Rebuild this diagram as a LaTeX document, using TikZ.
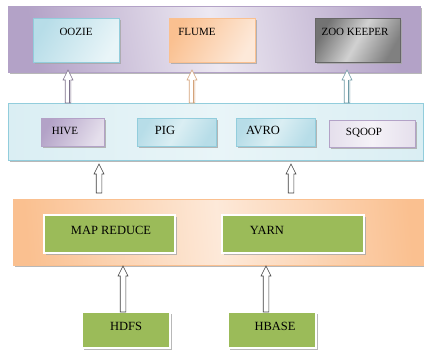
\documentclass[tikz,border=0pt]{standalone}
\usepackage{fontspec}
\setmainfont{Liberation Serif}
\usetikzlibrary{shadows,calc}
\definecolor{purD}{HTML}{B3A2C7}
\definecolor{purL}{HTML}{E5DFEC}
\definecolor{bluD}{HTML}{92CDDC}
\definecolor{bluM}{HTML}{B7DDE8}
\definecolor{bluL}{HTML}{DAEEF3}
\definecolor{orD}{HTML}{FAC090}
\definecolor{orL}{HTML}{FDE9D9}
\definecolor{grn}{HTML}{9BBB59}
\begin{document}
\begin{tikzpicture}[x=1pt,y=-1pt,
  box/.style={rectangle, inner sep=0pt, outer sep=0pt},
  shad/.style={drop shadow={shadow xshift=1.5pt, shadow yshift=-2pt, fill=black!35, opacity=0.8}},
  lbl/.style={inner sep=0pt, font=\fontsize{11}{11}\selectfont},
  lblb/.style={inner sep=0pt, font=\fontsize{12.5}{12.5}\selectfont},
  greenbox/.style={box, fill=grn, draw=white, line width=2.5pt, shad},
  hollow/.style={draw=#1, fill=white, line width=0.6pt, line join=miter,
    to path={let \p1=(\tikztostart), \p2=(\tikztotarget) in
      (\x1-2.8pt,\y1) -- (\x1-2.8pt,\y2-10pt) -- (\x1-5pt,\y2-10pt) -- (\x1,\y2)
      -- (\x1+5pt,\y2-10pt) -- (\x1+2.8pt,\y2-10pt) -- (\x1+2.8pt,\y1) -- cycle}},
  hollow/.default=black!75
]
\useasboundingbox (0,0) rectangle (424,351);
% bands
\node[box, shad, draw=purD, line width=0.6pt, left color=purD, right color=purD, middle color=purL!70, shading angle=100,
  minimum width=412pt, minimum height=66pt] (top) at (214,39) {};
\node[box, shad, draw=bluD, line width=0.6pt, left color=bluL, right color=bluL, middle color=bluL!60,
  minimum width=415pt, minimum height=57pt] (mid) at (215.5,131.5) {};
\node[box, shad, draw=orD, line width=0.6pt, left color=orD, right color=orD, middle color=orL, shading angle=95,
  minimum width=411pt, minimum height=66pt] (bot) at (218.5,232) {};
% top boxes
\node[box, shad, draw=bluD, line width=0.5pt, left color=bluM, right color=bluL!60, shading angle=60,
  minimum width=86pt, minimum height=44pt] (oozie) at (76,40) {};
\node[lbl] (oozieT) at (76,32) {OOZIE};
\node[box, shad, draw=orD, line width=0.5pt, left color=orD, right color=orL, shading angle=60,
  minimum width=86pt, minimum height=44pt] (flume) at (212,40) {};
\node[lbl] (flumeT) at (197,32) {FLUME};
\node[box, shad, draw=black!60, line width=0.5pt, left color=black!55, right color=black!50, middle color=black!18, shading angle=60,
  minimum width=85pt, minimum height=44pt] (zoo) at (357.5,40) {};
\node[lbl] (zooT) at (355,32) {ZOO KEEPER};
% middle boxes
\node[box, shad, draw=purD, line width=0.5pt, left color=purD, right color=purL, shading angle=60,
  minimum width=63pt, minimum height=28pt] (hive) at (72.5,132) {};
\node[lbl] (hiveT) at (65,131) {HIVE};
\node[box, shad, draw=bluD, line width=0.5pt, left color=bluM, right color=bluM, middle color=bluL, shading angle=60,
  minimum width=79pt, minimum height=28pt] (pig) at (176.5,132) {};
\node[lblb] (pigT) at (165,130) {PIG};
\node[box, shad, draw=bluD, line width=0.5pt, left color=bluM, right color=bluM, middle color=bluL, shading angle=60,
  minimum width=79pt, minimum height=28pt] (avro) at (275.5,132) {};
\node[lblb] (avroT) at (263,130) {AVRO};
\node[box, shad, draw=purD, line width=0.5pt, left color=purL, right color=purL, middle color=purL!40,
  minimum width=86pt, minimum height=27pt] (sqoop) at (372,133.5) {};
\node[lbl] (sqoopT) at (364,133) {SQOOP};
% bottom boxes
\node[greenbox, minimum width=131pt, minimum height=38pt] (mapred) at (109.5,234) {};
\node[lblb] (mapredT) at (111,230) {MAP REDUCE};
\node[greenbox, minimum width=142pt, minimum height=38pt] (yarn) at (293,234) {};
\node[lblb] (yarnT) at (267,230) {YARN};
\node[greenbox, minimum width=88pt, minimum height=36pt] (hdfs) at (126,330) {};
\node[lblb] (hdfsT) at (126,326) {HDFS};
\node[greenbox, minimum width=88pt, minimum height=36pt] (hbase) at (272,330) {};
\node[lblb] (hbaseT) at (275,326) {HBASE};
% arrow anchor coordinates
\coordinate (a1) at (68,0);
\coordinate (a2) at (192,0);
\coordinate (a3) at (347,0);
\coordinate (m1s) at (99,193);
\coordinate (m1e) at (99,164);
\coordinate (m2s) at (291,193);
\coordinate (m2e) at (291,164);
\coordinate (b1) at (123,0);
\coordinate (b2) at (266,0);
% arrows
\draw[hollow=purD!70!black] (mid.north -| a1) to ($(top.south -| a1)+(0,-2)$);
\draw[purD!70!black, line width=0.6pt] ($(mid.north -| a1)+(0.8,0)$) -- ($(top.south -| a1)+(0.8,8)$);
\draw[hollow=orD!85!black] (mid.north -| a2) to ($(top.south -| a2)+(0,-2)$);
\draw[orD!85!black, line width=0.6pt] ($(mid.north -| a2)+(0.8,0)$) -- ($(top.south -| a2)+(0.8,8)$);
\draw[hollow=bluD!75!black] (mid.north -| a3) to ($(top.south -| a3)+(0,-2)$);
\draw[bluD!75!black, line width=0.6pt] ($(mid.north -| a3)+(0.8,0)$) -- ($(top.south -| a3)+(0.8,8)$);
\draw[hollow] (m1s) to (m1e);
\draw[hollow] (m2s) to (m2e);
\draw[hollow] (hdfs.north -| b1) to ($(bot.south -| b1)+(0,1)$);
\draw[hollow] (hbase.north -| b2) to ($(bot.south -| b2)+(0,1)$);
\end{tikzpicture}
\end{document}
